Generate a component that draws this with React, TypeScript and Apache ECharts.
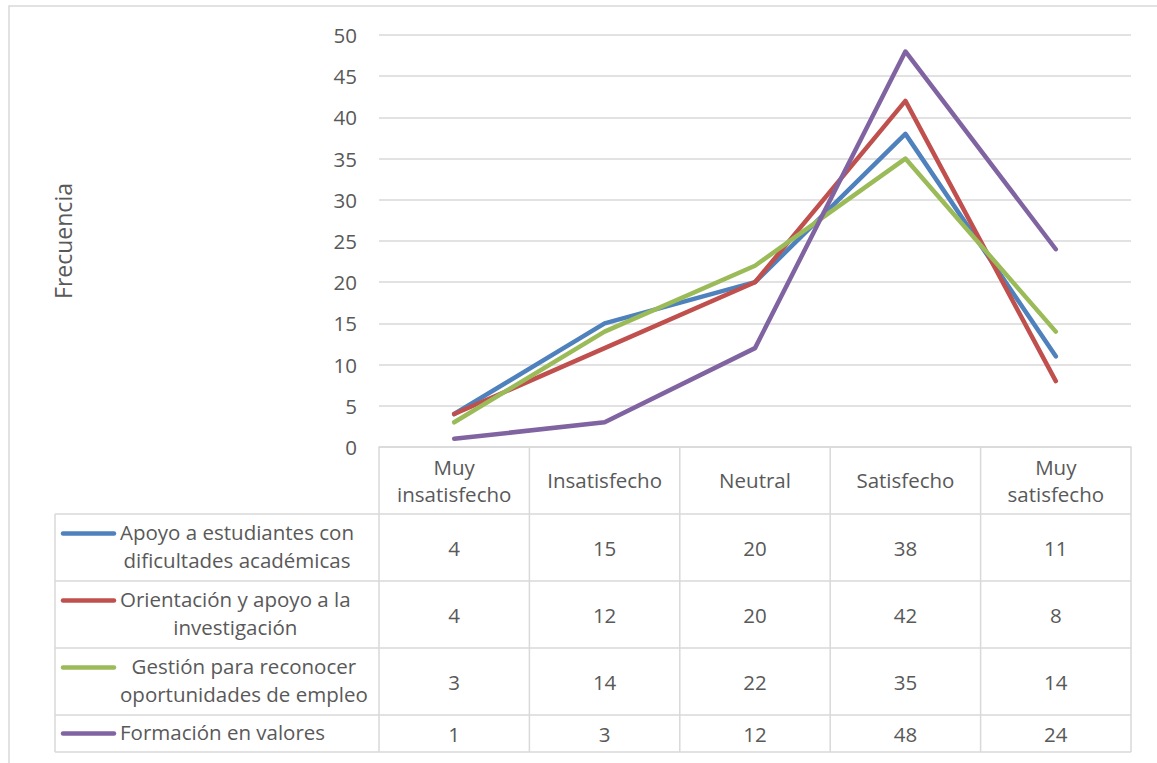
import React, { useEffect, useRef } from "react";
import * as echarts from "echarts";

const categories = ["Muy\ninsatisfecho", "Insatisfecho", "Neutral", "Satisfecho", "Muy\nsatisfecho"];
const seriesNames = [
  "Apoyo a estudiantes con\ndificultades académicas",
  "Orientación y apoyo a la\ninvestigación",
  "Gestión para reconocer\noportunidades de empleo",
  "Formación en valores",
];
const apoyo = [4, 15, 20, 38, 11];
const orientacion = [4, 12, 20, 42, 8];
const gestion = [3, 14, 22, 35, 14];
const formacion = [1, 3, 12, 48, 24];
const colors = ["#4F81BD", "#C0504D", "#9BBB59", "#8064A2"];
const yTitle = "Frecuencia";

const FONT = "Open Sans";
const TXT = "#595959";
const GRID_LINE = "#D9D9D9";
const FS = 20.5;

export default function App() {
  const ref = useRef<HTMLDivElement>(null);
  useEffect(() => {
    document.body.style.margin = "0";
    const chart = echarts.init(ref.current!, null, { renderer: "svg" });
    const allData = [apoyo, orientacion, gestion, formacion];
    chart.setOption({
      animation: false,
      textStyle: { fontFamily: FONT },
      grid: { left: 379, right: 26, top: 35, bottom: 316, containLabel: false },
      xAxis: {
        type: "category",
        data: categories,
        boundaryGap: true,
        axisLine: { show: true, lineStyle: { color: GRID_LINE, width: 1.5 } },
        axisTick: { show: false },
        axisLabel: {
          color: TXT,
          fontSize: FS,
          fontFamily: FONT,
          margin: 33,
          verticalAlign: "middle",
          lineHeight: 27,
          align: "center",
        },
      },
      yAxis: {
        type: "value",
        min: 0,
        max: 50,
        interval: 5,
        name: yTitle,
        nameLocation: "middle",
        nameRotate: 90,
        nameGap: 305,
        nameTextStyle: { color: TXT, fontSize: 23, fontFamily: FONT },
        axisLine: { show: false },
        axisTick: { show: false },
        axisLabel: { color: TXT, fontSize: FS, fontFamily: FONT, margin: 22 },
        splitLine: { lineStyle: { color: GRID_LINE, width: 1.5 } },
      },
      series: allData.map((d, i) => ({
        type: "line",
        name: seriesNames[i],
        data: d,
        showSymbol: false,
        symbol: "none",
        lineStyle: { color: colors[i], width: 4.5, cap: "round", join: "round" },
        itemStyle: { color: colors[i] },
        z: 2 + i,
      })),
    });

    const c0 = chart.convertToPixel({ xAxisIndex: 0 }, 0) as number;
    const c1 = chart.convertToPixel({ xAxisIndex: 0 }, 1) as number;
    const band = c1 - c0;
    const xStart = c0 - band / 2;
    const n = categories.length;
    const xEnd = xStart + band * n;
    const yTop = chart.convertToPixel({ yAxisIndex: 0 }, 0) as number;
    const headerH = 67;
    const rowHs = [67, 67, 67, 37];
    const tableLeft = 55;
    const rowTops: number[] = [];
    let y = yTop + headerH;
    for (const h of rowHs) {
      rowTops.push(y);
      y += h;
    }
    const tableBottom = y;

    const canvas = document.createElement("canvas");
    const ctx = canvas.getContext("2d")!;
    ctx.font = `${FS}px "${FONT}"`;

    const els: any[] = [];
    const ls = { stroke: GRID_LINE, lineWidth: 1.5 };
    els.push({ type: "rect", shape: { x: 9, y: 6, width: 1160, height: 780 }, style: { fill: "none", stroke: GRID_LINE, lineWidth: 1.5 }, silent: true });
    for (let i = 0; i <= n; i++) {
      const x = xStart + band * i;
      els.push({ type: "line", shape: { x1: x, y1: yTop, x2: x, y2: tableBottom }, style: ls, silent: true });
    }
    els.push({ type: "line", shape: { x1: tableLeft, y1: rowTops[0], x2: tableLeft, y2: tableBottom }, style: ls, silent: true });
    for (const rt of [...rowTops, tableBottom]) {
      els.push({ type: "line", shape: { x1: tableLeft, y1: rt, x2: xEnd, y2: rt }, style: ls, silent: true });
    }
    allData.forEach((d, r) => {
      const cy = rowTops[r] + rowHs[r] / 2;
      const ky = r < 3 ? cy - 14 : cy;
      els.push({ type: "line", shape: { x1: 63, y1: ky, x2: 114, y2: ky }, style: { stroke: colors[r], lineWidth: 4.5, lineCap: "round" }, silent: true });
      const lines = seriesNames[r].split("\n");
      const maxW = Math.max(...lines.map((l) => ctx.measureText(l).width));
      els.push({
        type: "text",
        x: 120 + maxW / 2,
        y: cy - 1.5,
        style: {
          text: seriesNames[r],
          fill: TXT,
          fontSize: FS,
          fontFamily: FONT,
          align: "center",
          verticalAlign: "middle",
          lineHeight: 28,
        },
        silent: true,
      });
      d.forEach((v, i) => {
        const cx = chart.convertToPixel({ xAxisIndex: 0 }, i) as number;
        els.push({
          type: "text",
          x: cx,
          y: cy,
          style: { text: String(v), fill: TXT, fontSize: FS, fontFamily: FONT, align: "center", verticalAlign: "middle" },
          silent: true,
        });
      });
    });
    chart.setOption({ graphic: els });

    return () => chart.dispose();
  }, []);
  return <div ref={ref} style={{ width: 1157, height: 763 }} />;
}
